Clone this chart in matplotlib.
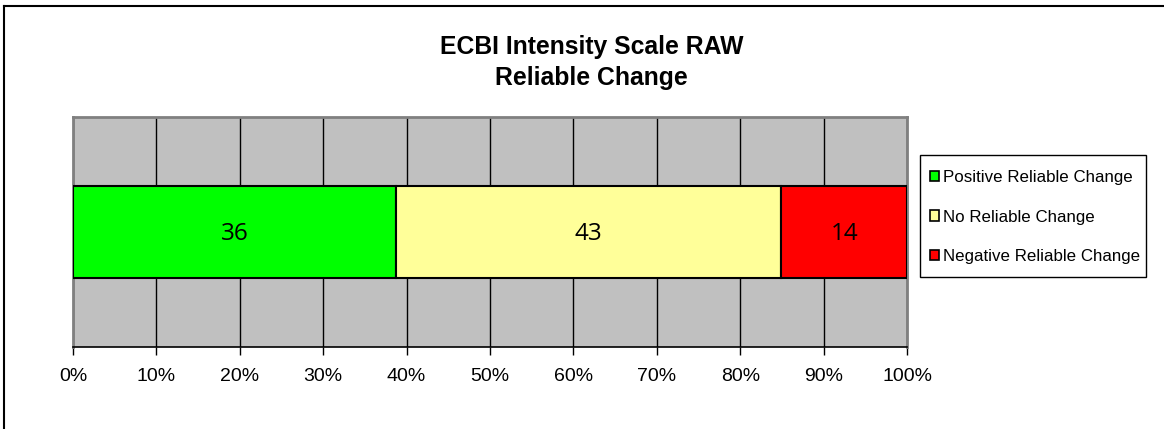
import matplotlib
matplotlib.use("Agg")
import matplotlib.pyplot as plt
from matplotlib.lines import Line2D
from matplotlib.patches import Patch, Rectangle

title_lines = ["ECBI Intensity Scale RAW", "Reliable Change"]
categories = ["Positive Reliable Change", "No Reliable Change", "Negative Reliable Change"]
counts = [36, 43, 14]
colors = ["#00FF00", "#FFFF99", "#FF0000"]
xticks = [0, 10, 20, 30, 40, 50, 60, 70, 80, 90, 100]
xtick_labels = [f"{t}%" for t in xticks]

W, H = 1164, 429
fig = plt.figure(figsize=(W / 100, H / 100), dpi=100)
fig.patch.set_facecolor("white")

# outer chart border (top and left visible)
fig.add_artist(Line2D([4 / W, 4 / W], [1 - 6 / H, 0], color="black", lw=1.5, transform=fig.transFigure))
fig.add_artist(Line2D([4 / W, 1], [1 - 6 / H, 1 - 6 / H], color="black", lw=1.5, transform=fig.transFigure))

left, right, top, bottom = 73, 907, 117, 347
ax = fig.add_axes([left / W, 1 - bottom / H, (right - left) / W, (bottom - top) / H])
ax.set_facecolor("#C0C0C0")

total = sum(counts)
pct = [c / total * 100 for c in counts]
start = 0
for c, p, col, cat in zip(counts, pct, colors, categories):
    ax.barh(0, p, left=start, height=0.4, color=col, edgecolor="black", linewidth=1.5, zorder=3, label=cat)
    ax.text(start + p / 2, -0.01, str(c), ha="center", va="center", fontsize=17.5,
            family="Open Sans", color="black", zorder=4)
    start += p

ax.set_xlim(0, 100)
ax.set_ylim(-0.5, 0.5)
ax.set_xticks(xticks)
ax.set_xticklabels(xtick_labels, fontsize=14, family="Liberation Sans")
ax.set_yticks([])
ax.xaxis.grid(True, color="black", linewidth=1.0, zorder=1)
ax.set_axisbelow(True)
ax.tick_params(axis="x", direction="out", length=6, width=1, color="black", pad=9)

for s in ["top", "right", "left"]:
    ax.spines[s].set_color("#808080")
    ax.spines[s].set_linewidth(2)
ax.spines["bottom"].set_color("black")
ax.spines["bottom"].set_linewidth(1.2)

fig.text(591.5 / W, 1 - 47 / H, title_lines[0], ha="center", va="center", fontsize=17.8,
         fontweight="bold", family="Liberation Sans")
fig.text(591.5 / W, 1 - 78 / H, title_lines[1], ha="center", va="center", fontsize=17.8,
         fontweight="bold", family="Liberation Sans")

# legend frame
fig.add_artist(Rectangle((920 / W, 1 - 277 / H), (1146 - 920) / W, (277 - 155) / H,
                         transform=fig.transFigure, facecolor="white", edgecolor="black",
                         linewidth=1.0, zorder=5))
handles = [Patch(facecolor=col, edgecolor="black", linewidth=1.2) for col in colors]
leg = fig.legend(handles, categories, loc="upper left", bbox_to_anchor=(920 / W, 1 - 160 / H),
                 bbox_transform=fig.transFigure, frameon=False,
                 prop={"family": "Liberation Sans", "size": 12.2}, handlelength=0.55, handleheight=0.55,
                 handletextpad=0.2, labelspacing=1.44, borderpad=0.6, borderaxespad=0)
leg.set_zorder(6)

fig.savefig("out.png", dpi=100)
